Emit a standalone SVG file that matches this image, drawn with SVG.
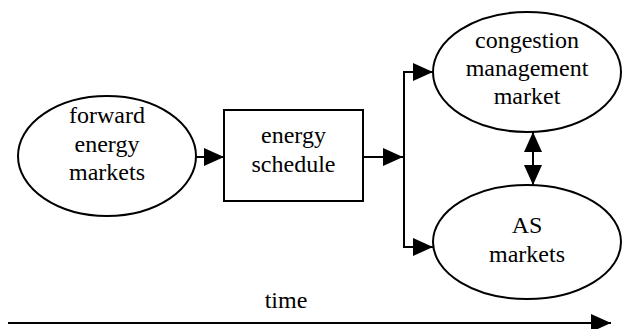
<svg xmlns="http://www.w3.org/2000/svg" width="627" height="329" viewBox="0 0 627 329">
<defs>
<style>
.shape{fill:#fff;stroke:#000;stroke-width:2}
.conn{fill:none;stroke:#000;stroke-width:2}
.t{font-family:"Liberation Serif","Times New Roman",Times,serif;font-size:24px;fill:#000;text-anchor:middle}
</style>
<marker id="ah" markerUnits="userSpaceOnUse" markerWidth="20" markerHeight="18" refX="20" refY="9" orient="auto-start-reverse" viewBox="0 0 20 18">
<path d="M0,0 L20,9 L0,18 z" fill="#000"/>
</marker>
</defs>
<rect width="627" height="329" fill="#fff"/>
<g id="forward">
<ellipse class="shape" cx="107" cy="156" rx="89" ry="60"/>
<text class="t" x="107" y="123">forward</text>
<text class="t" x="107" y="152">energy</text>
<text class="t" x="107" y="180">markets</text>
</g>
<g id="schedule">
<rect class="shape" x="224" y="110" width="139" height="91"/>
<text class="t" x="293.5" y="143">energy</text>
<text class="t" x="293.5" y="172">schedule</text>
</g>
<g id="congestion">
<ellipse class="shape" cx="527" cy="72" rx="94" ry="60"/>
<text class="t" x="527" y="48">congestion</text>
<text class="t" x="527" y="76">management</text>
<text class="t" x="527" y="104">market</text>
</g>
<g id="as">
<ellipse class="shape" cx="527" cy="242" rx="94" ry="57"/>
<text class="t" x="527" y="233">AS</text>
<text class="t" x="527" y="262">markets</text>
</g>
<g id="time">
<text class="t" x="286" y="308">time</text>
</g>
<g id="connectors">
<line class="conn" x1="196" y1="157" x2="224" y2="157" marker-end="url(#ah)"/>
<line class="conn" x1="363" y1="157" x2="403" y2="157" marker-end="url(#ah)"/>
<polyline class="conn" points="433,72 404,72 404,247 433,247"/>
<line class="conn" x1="404" y1="72" x2="433" y2="72" marker-end="url(#ah)"/>
<line class="conn" x1="404" y1="247" x2="433" y2="247" marker-end="url(#ah)"/>
<line class="conn" x1="533" y1="132" x2="533" y2="185" marker-start="url(#ah)" marker-end="url(#ah)"/>
<line class="conn" x1="8" y1="323" x2="611" y2="323" marker-end="url(#ah)"/>
</g>
</svg>
